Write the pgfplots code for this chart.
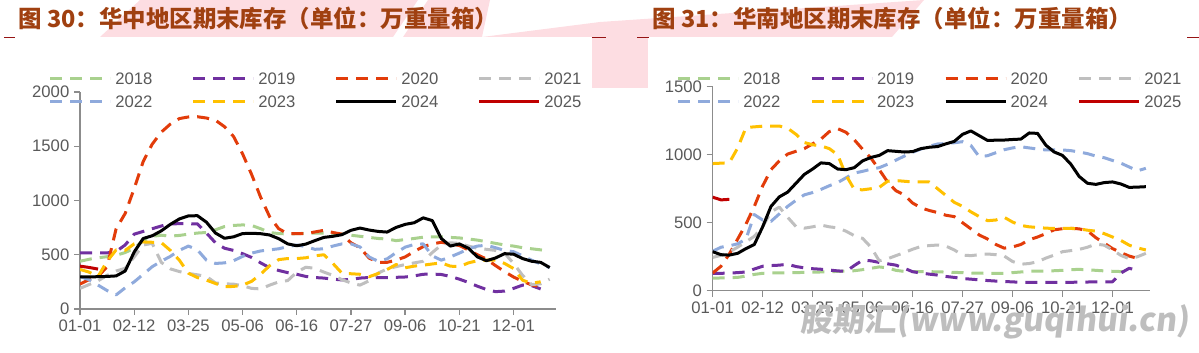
\documentclass[border=0pt]{standalone}
\usepackage{pgfplots}
\pgfplotsset{compat=1.18}
\usepackage{fontspec}
\setmainfont{Liberation Sans}
\newfontfamily\cjk{Noto Sans CJK SC}
\newfontfamily\cjkwm{Noto Sans CJK SC}[FakeSlant=0.12]
\definecolor{c18}{RGB}{169,209,142}
\definecolor{c19}{RGB}{112,48,160}
\definecolor{c20}{RGB}{226,60,10}
\definecolor{c21}{RGB}{191,191,191}
\definecolor{c22}{RGB}{143,170,220}
\definecolor{c23}{RGB}{255,192,0}
\definecolor{c25}{RGB}{192,0,0}
\definecolor{axgray}{RGB}{140,140,140}
\definecolor{txtgray}{RGB}{89,89,89}
\definecolor{titlec}{RGB}{160,64,16}
\definecolor{pinkbg}{RGB}{253,221,226}
\definecolor{wmgray}{RGB}{190,190,190}
\definecolor{bordred}{RGB}{150,20,20}
\tikzset{dsh/.style={dash pattern=on 9pt off 6pt}}
\pgfplotsset{
  base/.style={
    scale only axis, clip=true,
    axis x line=bottom, axis y line=left,
    axis line style={draw=axgray, line width=1pt, -},
    tick style={draw=axgray, line width=1pt},
    tick align=outside, major tick length=4.5pt,
    xmin=0, ymin=0,
    xtick={0,6,...,48},
    xticklabels={01-01,02-12,03-25,05-06,06-16,07-27,09-06,10-21,12-01},
    tick label style={font=\fontsize{12.5}{15}\selectfont, text=txtgray},
    /pgf/number format/assume math mode=true,
    /pgf/number format/1000 sep={},
    legend columns=4,
    legend image code/.code={\draw[##1] (0pt,0pt) -- (45pt,0pt);},
    legend style={draw=none, fill=none, inner sep=0pt, outer sep=0pt, anchor=north west,
      font=\fontsize{12.5}{15}\selectfont, text=txtgray,
      nodes={inner sep=1pt, text height=9pt, text depth=0pt},
      /tikz/every odd column/.append style={column sep=1.75pt},
      row sep=6.25pt},
    every axis plot/.append style={line width=2.25pt, line join=round},
  },
}
\begin{document}
\begin{tikzpicture}
\useasboundingbox (0,0) rectangle (899.25pt,264.75pt);
% decorative background
\fill[pinkbg] (75pt,237pt) -- (105pt,264.75pt) -- (313.5pt,264.75pt) -- (294.75pt,237pt) -- cycle;
\fill[pinkbg] (302.25pt,237pt) -- (321pt,264.75pt) -- (367.5pt,264.75pt) -- (361.5pt,237pt) -- cycle;
\fill[pinkbg] (361.5pt,237pt) -- (450pt,248.25pt) -- (693pt,264.75pt) -- (669pt,237pt) -- cycle;
\fill[pinkbg] (444pt,237pt) rectangle (486pt,198.75pt);
\draw[bordred, line width=0.75pt] (3pt,236.25pt) -- (11.25pt,236.25pt);
\draw[bordred, line width=0.75pt] (444pt,236.25pt) -- (454.5pt,236.25pt);
\draw[bordred, line width=0.75pt] (477.75pt,236.25pt) -- (486.75pt,236.25pt);
\draw[bordred, line width=0.75pt] (890.25pt,236.25pt) -- (899.25pt,236.25pt);
\node[anchor=west, inner sep=0pt, text=titlec, font=\cjk\bfseries\fontsize{17.6}{20}\selectfont] at (13.5pt,251.25pt) {图 30：华中地区期末库存（单位：万重量箱）};
\node[anchor=west, inner sep=0pt, text=titlec, font=\cjk\bfseries\fontsize{17.6}{20}\selectfont] at (489pt,251.25pt) {图 31：华南地区期末库存（单位：万重量箱）};

% ---------------- left chart ----------------
\begin{axis}[base, at={(60pt,33pt)}, anchor=south west, width=357pt, height=162.75pt,
  xmax=52.7, ymax=2000, ytick={0,500,1000,1500,2000},
  legend style={at={(axis description cs:-0.0658,1.098)},
    /tikz/every even column/.append style={column sep=28.45pt}}]
\addplot[c18,dsh] table[x expr=\coordindex, y index=0, header=false, row sep=\\] {440\\458\\472\\482\\495\\520\\560\\630\\670\\680\\672\\678\\690\\700\\705\\730\\760\\770\\775\\770\\740\\705\\695\\692\\694\\698\\700\\700\\695\\690\\680\\670\\660\\650\\645\\630\\640\\650\\662\\665\\665\\660\\655\\645\\635\\620\\605\\590\\580\\565\\555\\545\\532\\};
\addlegendentry{2018}
\addplot[c19,dsh] table[x expr=\coordindex, y index=0, header=false, row sep=\\] {517\\517\\517\\517\\530\\590\\690\\715\\740\\765\\785\\786\\786\\785\\700\\610\\560\\540\\510\\475\\425\\380\\355\\335\\320\\300\\290\\285\\275\\268\\272\\285\\290\\290\\290\\292\\295\\305\\320\\322\\318\\300\\275\\245\\210\\180\\160\\165\\190\\220\\215\\185\\};
\addlegendentry{2019}
\addplot[c20,dsh] table[x expr=\coordindex, y index=0, header=false, row sep=\\] {230\\270\\300\\390\\740\\880\\1110\\1360\\1520\\1630\\1704\\1755\\1770\\1772\\1760\\1740\\1680\\1590\\1430\\1240\\1030\\850\\740\\694\\694\\694\\710\\725\\705\\690\\610\\565\\470\\430\\430\\450\\480\\530\\575\\600\\615\\600\\585\\545\\500\\460\\400\\345\\295\\255\\222\\205\\};
\addlegendentry{2020}
\addplot[c21,dsh] table[x expr=\coordindex, y index=0, header=false, row sep=\\] {190\\225\\260\\310\\350\\375\\480\\590\\605\\430\\370\\345\\328\\315\\300\\240\\232\\229\\215\\190\\185\\220\\250\\262\\340\\385\\375\\340\\310\\270\\240\\220\\260\\330\\370\\390\\410\\425\\440\\520\\590\\610\\605\\580\\560\\550\\540\\515\\420\\310\\225\\232\\275\\};
\addlegendentry{2021}
\addplot[c22,dsh] table[x expr=\coordindex, y index=0, header=false, row sep=\\] {300\\270\\220\\170\\130\\195\\250\\320\\390\\440\\485\\540\\580\\545\\450\\420\\425\\445\\485\\515\\535\\545\\555\\575\\590\\575\\550\\555\\580\\600\\600\\572\\480\\440\\462\\520\\570\\595\\600\\490\\450\\480\\515\\555\\580\\587\\565\\540\\528\\490\\450\\415\\382\\};
\addlegendentry{2022}
\addplot[c23,dsh] table[x expr=\coordindex, y index=0, header=false, row sep=\\] {365\\340\\300\\440\\545\\540\\600\\618\\615\\612\\540\\450\\330\\290\\266\\235\\205\\208\\220\\255\\320\\400\\455\\465\\465\\472\\490\\500\\420\\330\\325\\320\\297\\327\\364\\410\\380\\395\\404\\415\\425\\395\\390\\425\\445\\450\\450\\420\\373\\265\\238\\251\\};
\addlegendentry{2023}
\addplot[black] table[x expr=\coordindex, y index=0, header=false, row sep=\\] {296\\295\\298\\300\\305\\350\\525\\650\\675\\720\\780\\830\\858\\860\\800\\700\\652\\665\\695\\698\\694\\682\\648\\600\\583\\598\\630\\660\\670\\685\\725\\746\\728\\715\\709\\752\\780\\795\\840\\815\\650\\580\\600\\560\\480\\445\\470\\510\\505\\465\\440\\430\\382\\};
\addlegendentry{2024}
\addplot[c25] table[x expr=\coordindex, y index=0, header=false, row sep=\\] {395\\383\\368\\};
\addlegendentry{2025}
\end{axis}

% ---------------- right chart ----------------
\begin{axis}[base, at={(534.5pt,46.7pt)}, anchor=south west, width=328pt, height=153pt,
  xmax=52.5, ymax=1500, ytick={0,500,1000,1500},
  legend style={at={(axis description cs:-0.0823,1.078)},
    /tikz/every even column/.append style={column sep=21.45pt}}]
\addplot[c18,dsh] table[x expr=\coordindex, y index=0, header=false, row sep=\\] {92\\94\\96\\98\\108\\120\\128\\131\\132\\132\\133\\135\\136\\138\\140\\142\\145\\147\\155\\165\\175\\168\\150\\142\\140\\140\\140\\139\\137\\135\\133\\130\\129\\128\\128\\128\\133\\138\\143\\144\\145\\147\\150\\155\\157\\154\\150\\146\\143\\141\\140\\};
\addlegendentry{2018}
\addplot[c19,dsh] table[x expr=\coordindex, y index=0, header=false, row sep=\\] {128\\128\\130\\133\\138\\160\\180\\185\\188\\195\\178\\168\\162\\158\\152\\146\\142\\185\\225\\220\\208\\198\\188\\165\\140\\130\\122\\115\\105\\98\\90\\85\\80\\75\\71\\68\\65\\62\\61\\61\\61\\61\\61\\62\\63\\64\\66\\66\\66\\130\\165\\150\\};
\addlegendentry{2019}
\addplot[c20,dsh] table[x expr=\coordindex, y index=0, header=false, row sep=\\] {130\\180\\270\\380\\490\\620\\770\\890\\955\\1005\\1025\\1045\\1080\\1115\\1170\\1192\\1165\\1110\\1040\\975\\890\\800\\735\\705\\645\\610\\590\\575\\555\\545\\500\\455\\410\\380\\340\\313\\322\\340\\375\\395\\420\\448\\456\\459\\455\\440\\390\\350\\310\\280\\255\\238\\};
\addlegendentry{2020}
\addplot[c21,dsh] table[x expr=\coordindex, y index=0, header=false, row sep=\\] {245\\260\\285\\320\\360\\400\\470\\580\\615\\540\\472\\460\\470\\483\\470\\462\\438\\405\\385\\320\\220\\235\\258\\280\\305\\325\\332\\336\\328\\300\\262\\258\\265\\270\\265\\255\\215\\195\\200\\213\\240\\262\\287\\295\\304\\320\\343\\335\\300\\260\\235\\250\\275\\};
\addlegendentry{2021}
\addplot[c22,dsh] table[x expr=\coordindex, y index=0, header=false, row sep=\\] {290\\320\\330\\345\\380\\560\\520\\510\\565\\620\\665\\705\\722\\745\\772\\795\\830\\865\\878\\893\\905\\930\\960\\990\\1018\\1042\\1062\\1079\\1082\\1088\\1096\\1068\\985\\993\\1015\\1037\\1050\\1059\\1050\\1042\\1035\\1035\\1035\\1030\\1020\\1008\\990\\978\\958\\938\\910\\882\\900\\};
\addlegendentry{2022}
\addplot[c23,dsh] table[x expr=\coordindex, y index=0, header=false, row sep=\\] {935\\938\\941\\1050\\1200\\1205\\1210\\1211\\1211\\1195\\1150\\1090\\1073\\1065\\1045\\1000\\850\\745\\742\\750\\760\\805\\810\\805\\800\\800\\800\\750\\700\\650\\620\\580\\545\\515\\520\\540\\505\\480\\470\\465\\460\\458\\458\\458\\455\\445\\438\\420\\395\\370\\335\\315\\300\\};
\addlegendentry{2023}
\addplot[black] table[x expr=\coordindex, y index=0, header=false, row sep=\\] {287\\265\\262\\275\\310\\340\\470\\620\\690\\725\\790\\855\\895\\940\\935\\895\\890\\905\\955\\980\\995\\1030\\1025\\1020\\1023\\1045\\1055\\1060\\1080\\1098\\1150\\1175\\1140\\1105\\1107\\1108\\1112\\1115\\1160\\1157\\1070\\1020\\995\\930\\840\\790\\782\\795\\800\\785\\760\\762\\765\\};
\addlegendentry{2024}
\addplot[c25] table[x expr=\coordindex, y index=0, header=false, row sep=\\] {688\\668\\672\\};
\addlegendentry{2025}
\end{axis}

\node[anchor=west, inner sep=0pt, text=wmgray, font=\cjkwm\bfseries\fontsize{24}{28}\selectfont] at (600pt,23.25pt) {股期汇(www.guqihui.cn)};
\end{tikzpicture}
\end{document}
